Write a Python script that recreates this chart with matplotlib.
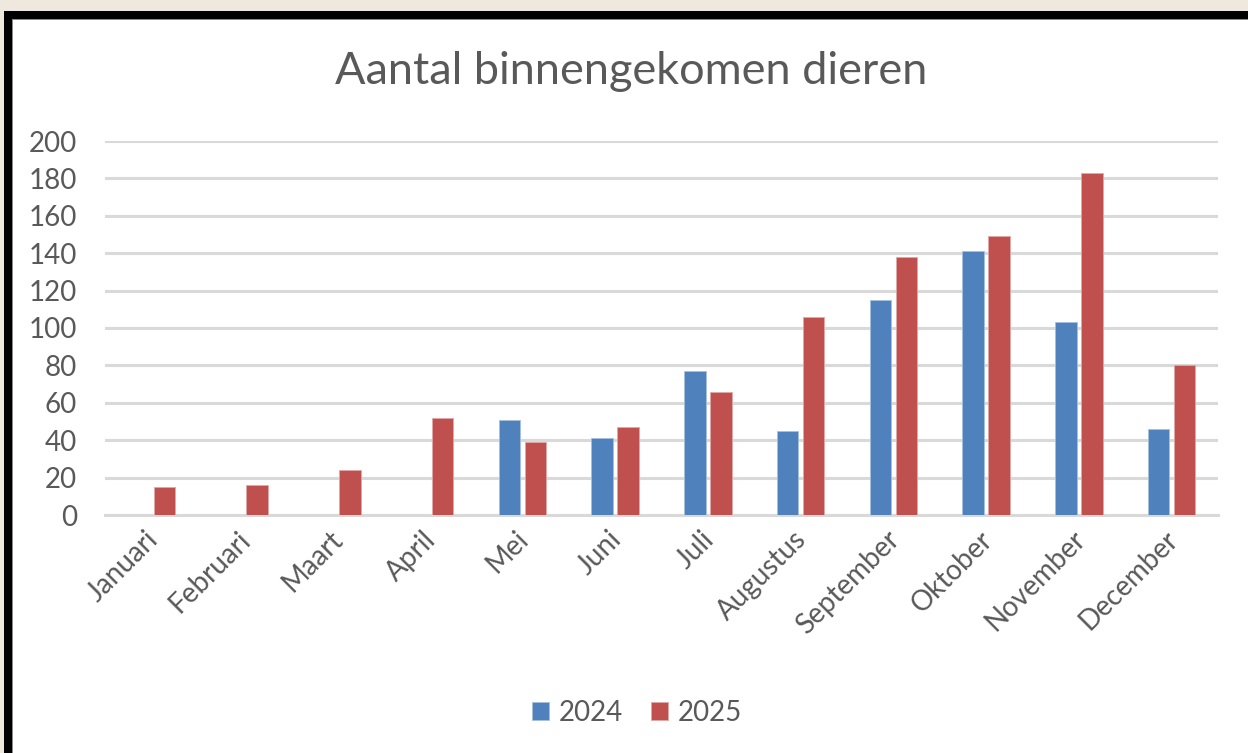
import matplotlib
matplotlib.use("Agg")
import matplotlib.pyplot as plt
from matplotlib.patches import Rectangle
from matplotlib.transforms import ScaledTranslation
import numpy as np

months = ["Januari", "Februari", "Maart", "April", "Mei", "Juni", "Juli",
          "Augustus", "September", "Oktober", "November", "December"]
v2024 = [0, 0, 0, 0, 51, 41, 77, 45, 115, 141, 103, 46]
v2025 = [15, 16, 24, 52, 39, 47, 66, 106, 138, 149, 183, 80]
yticks = [0, 20, 40, 60, 80, 100, 120, 140, 160, 180, 200]

W, H = 1248, 753
fig = plt.figure(figsize=(W / 100, H / 100), dpi=100)
fig.patch.set_facecolor("white")
plt.rcParams["font.family"] = ["Lato", "DejaVu Sans"]

def fr(x0, y0, x1, y1, color):
    fig.patches.append(Rectangle((x0 / W, 1 - y1 / H), (x1 - x0) / W, (y1 - y0) / H,
                                 transform=fig.transFigure, color=color, zorder=0, lw=0))

beige = "#EFE8DE"
fr(0, 0, W, 11, beige)
fr(0, 0, 4, H, beige)
fr(4, 11, W, 19, "black")
fr(4, 11, 12, H, "black")
fr(12, 19, W, 20, "#8a8a8a")
fr(12, 19, 13, H, "#8a8a8a")

ax = fig.add_axes([105 / W, 1 - 515 / H, (1218 - 105) / W, (515 - 141) / H])
ax.set_facecolor("none")
x = np.arange(len(months))
off, bw = 0.14, 0.23
ax.bar(x - off, v2024, bw, color="#4F81BD", edgecolor="#A7C0DE", linewidth=0.6, label="2024", zorder=3)
ax.bar(x + off, v2025, bw, color="#C0504D", edgecolor="#E0A8A6", linewidth=0.6, label="2025", zorder=3)
ax.set_xlim(-0.5, len(months) - 0.5)
ax.set_ylim(0, 200)
ax.set_yticks(yticks)
ax.yaxis.grid(True, color="#D9D9D9", linewidth=2.2, zorder=0)
ax.set_axisbelow(True)
for s in ["left", "right", "top"]:
    ax.spines[s].set_visible(False)
ax.spines["bottom"].set_color("#D9D9D9")
ax.spines["bottom"].set_linewidth(2.2)
ax.tick_params(axis="both", length=0, colors="#595959", labelsize=20)
ax.tick_params(axis="y", pad=20)
ax.set_xticks(x)
ax.set_xticklabels(months, rotation=45, ha="right", rotation_mode="anchor", fontsize=20)
ax.tick_params(axis="x", pad=8)
shift = ScaledTranslation(-7 / 100, 0, fig.dpi_scale_trans)
for lbl in ax.get_xticklabels():
    lbl.set_transform(lbl.get_transform() + shift)

fig.text(631 / W, 1 - 72 / H, "Aantal binnengekomen dieren", ha="center", va="center",
         fontsize=32.5, color="#595959")

leg = fig.legend(loc="center", bbox_to_anchor=(637 / W, 1 - 713 / H), ncol=2, frameon=False,
                 fontsize=20, handlelength=0.6, handleheight=0.6, handletextpad=0.35,
                 columnspacing=1.0, labelcolor="#595959")

fig.savefig("out.png", dpi=100, facecolor=fig.get_facecolor())
